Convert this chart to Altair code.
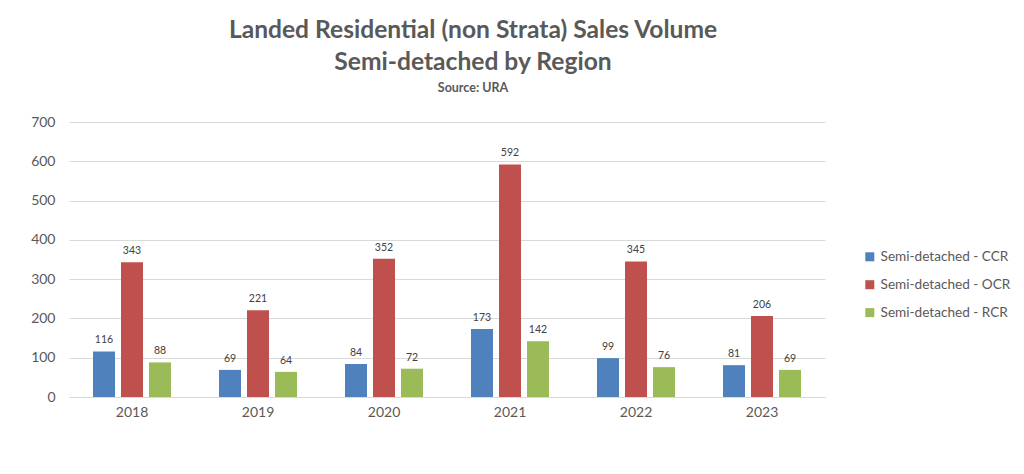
import altair as alt
import pandas as pd

years = ["2018", "2019", "2020", "2021", "2022", "2023"]
series = ["Semi-detached - CCR", "Semi-detached - OCR", "Semi-detached - RCR"]
ccr = [116, 69, 84, 173, 99, 81]
ocr = [343, 221, 352, 592, 345, 206]
rcr = [88, 64, 72, 142, 76, 69]
colors = ["#4F81BD", "#C0504D", "#9BBB59"]

rows = []
for vals, s in zip([ccr, ocr, rcr], series):
    for y, v in zip(years, vals):
        rows.append({"year": y, "series": s, "value": v})
df = pd.DataFrame(rows)

FONT = "Lato"
GRAY = "#595959"

base = alt.Chart(df).encode(
    x=alt.X("year:N", sort=years,
            scale=alt.Scale(paddingInner=0.381, paddingOuter=0.1905),
            axis=alt.Axis(title=None, labelAngle=0, labelFontSize=14, labelColor=GRAY,
                          labelFont=FONT, domainColor="#D9D9D9", ticks=False, labelPadding=8)),
    xOffset=alt.XOffset("series:N", sort=series,
                        scale=alt.Scale(paddingInner=0.214, paddingOuter=0)),
    y=alt.Y("value:Q", scale=alt.Scale(domain=[0, 700]),
            axis=alt.Axis(title=None, values=list(range(0, 701, 100)), labelFontSize=14,
                          labelColor=GRAY, labelFont=FONT, domain=False, ticks=False,
                          gridColor="#D9D9D9", labelPadding=14)),
)

bars = base.mark_bar().encode(
    color=alt.Color("series:N", sort=series,
                    scale=alt.Scale(domain=series, range=colors),
                    legend=alt.Legend(title=None, orient="none", legendX=794, legendY=128,
                                      symbolType="square", symbolSize=81, symbolStrokeWidth=0,
                                      labelFontSize=13.6, labelColor=GRAY, labelFont=FONT,
                                      labelOffset=4, rowPadding=12.9, symbolOpacity=1))
)

labels = base.mark_text(dy=-6, baseline="bottom", fontSize=10.5, color="#404040", font=FONT).encode(
    text=alt.Text("value:Q")
)

chart = (bars + labels).properties(
    width=756, height=275,
    padding={"left": 61, "top": 114, "right": 191, "bottom": 69},
    autosize=alt.AutoSizeParams(type="none"),
    title=alt.TitleParams(
        text=["Landed Residential (non Strata) Sales Volume", "Semi-detached by Region"],
        subtitle="Source: URA", anchor="middle", frame="group", dx=26,
        font=FONT, fontSize=24.6, fontWeight="bold", color=GRAY, lineHeight=32,
        subtitleFont=FONT, subtitleFontSize=12.5, subtitleFontWeight="bold",
        subtitleColor=GRAY, subtitlePadding=6, offset=20,
    ),
).configure_view(stroke=None)

chart.save("out.html", embed_options={"renderer": "svg", "actions": False})
